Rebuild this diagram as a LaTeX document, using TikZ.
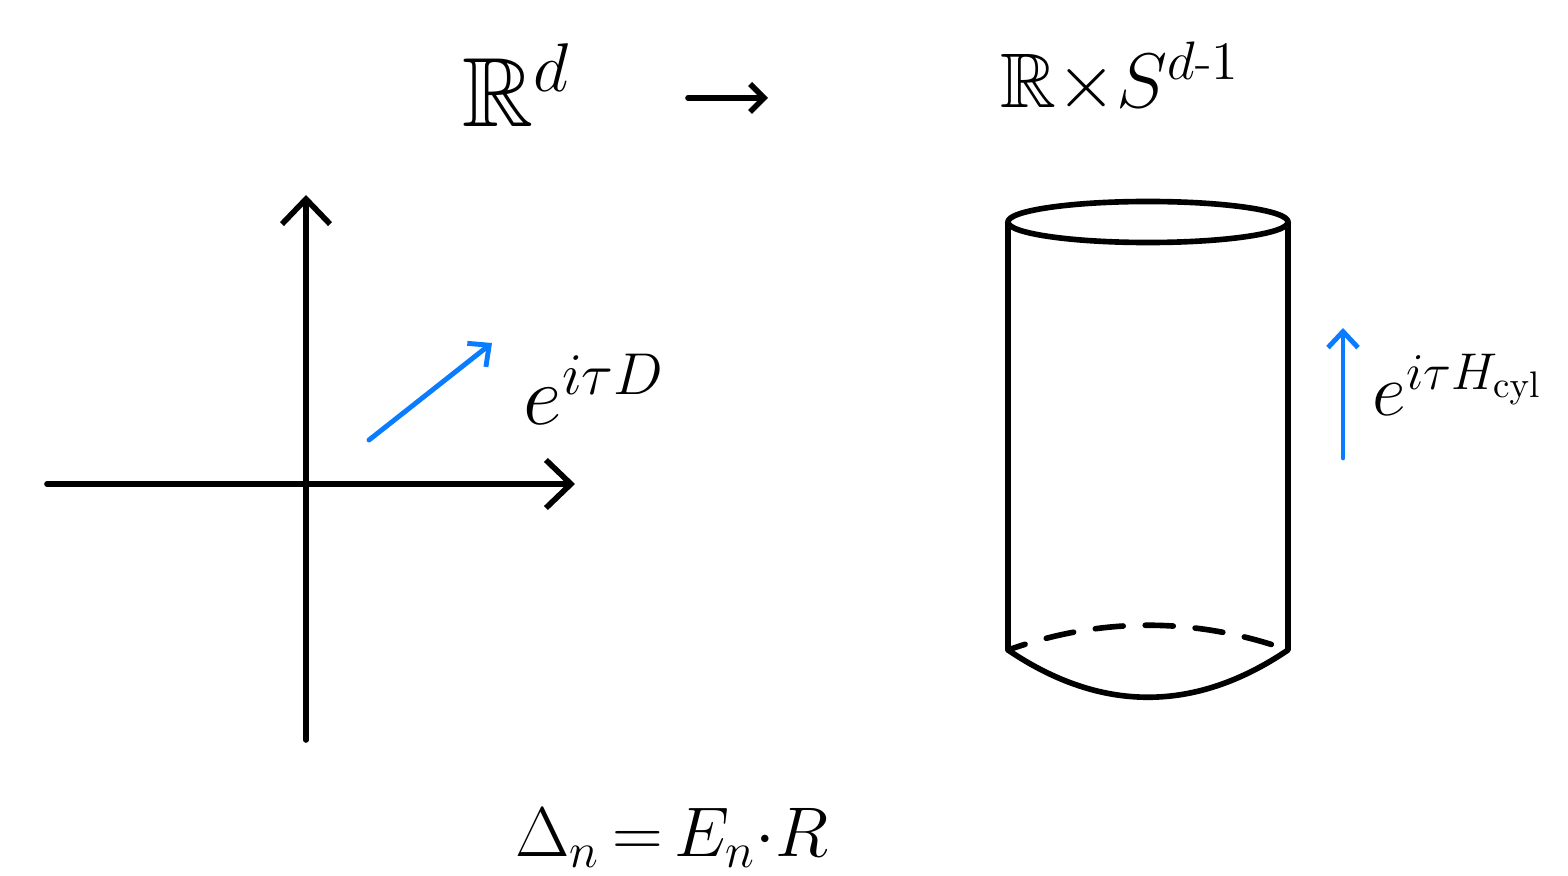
\RequirePackage{fix-cm}
\documentclass[tikz,border=0pt]{standalone}
\usepackage{amsmath,amssymb}
\usepackage{xcolor}
\usepackage{tikz}
\definecolor{flowblue}{HTML}{0A7CFF}
\usetikzlibrary{arrows.meta, positioning, calc}

\begin{document}
\begin{tikzpicture}[
      x=0.01cm, y=-0.01cm,
      line cap=round, line join=round,
      wall/.style={line width=1.6pt},
      axis/.style={line width=1.6pt, -{Straight Barb[length=2.5mm, width=4.8mm]}},
      map/.style={line width=1.6pt, -{Straight Barb[length=1.4mm, width=2.8mm]}},
      flow/.style={flowblue, line width=1.4pt, -{Straight Barb[length=1.6mm, width=3mm]}},
      lbl/.style={inner sep=0pt, anchor=base west}
    ]
      \useasboundingbox (0,0) rectangle (1568,876);

      % titles
      \node[lbl, font=\fontsize{28}{32}\selectfont] (flat) at (462,127) {$\mathbb{R}^d$};
      \node[lbl, font=\fontsize{22}{26}\selectfont] (cyl) at (1000,108) {$\mathbb{R}{\times}S^{d\text{-}1}$};
      \coordinate (mapfrom) at (688,98);
      \coordinate (mapto) at (768,98);
      \draw[map] (mapfrom) -- (mapto);

      % plane
      \coordinate (origin) at (306,484);
      \coordinate (xmin) at (47,484);
      \coordinate (xmax) at (575,484);
      \coordinate (ymin) at (306,740);
      \coordinate (ymax) at (306,195);
      \draw[axis] (xmin) -- (xmax);
      \draw[axis] (ymin) -- (ymax);

      \coordinate (dil0) at (369,440);
      \coordinate (dil1) at (492,343);
      \draw[flow] (dil0) -- (dil1);
      \node[lbl, font=\fontsize{24}{28}\selectfont] (dil) at (523,425) {$e^{i\tau D}$};

      % cylinder
      \draw[wall] (1148,222) ellipse [x radius=1.4cm, y radius=0.205cm];
      \draw[wall] (1008,222) -- (1008,650)
        .. controls (1101,713) and (1195,713) .. (1288,650) -- (1288,222);
      \draw[wall, dash pattern=on 0.28cm off 0.22cm, dash phase=0.1cm]
        (1008,650) .. controls (1101,617) and (1195,617) .. (1288,650);

      \coordinate (ham0) at (1343,458);
      \coordinate (ham1) at (1343,328);
      \draw[flow] (ham0) -- (ham1);
      \node[lbl, font=\fontsize{21}{25}\selectfont] (ham) at (1372,416) {$e^{i\tau H_{\mathrm{cyl}}}$};

      % energy
      \node[inner sep=0pt, font=\fontsize{20}{24}\selectfont] (gap) at (672,838) {$\Delta_n\,{=}\,E_n{\cdot}R$};
    \end{tikzpicture}
\end{document}
